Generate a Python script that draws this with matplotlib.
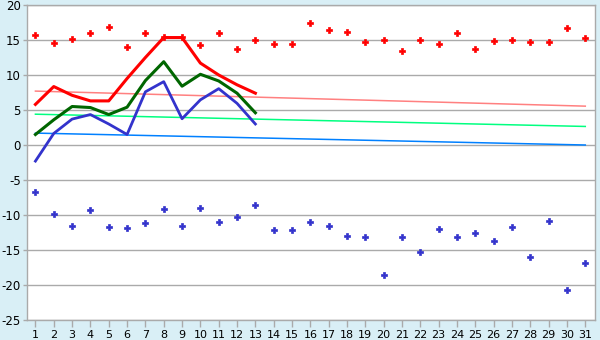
import matplotlib
matplotlib.use('Agg')
import matplotlib.pyplot as plt

plt.rcParams['axes.unicode_minus'] = False

# ---- data ----
days = list(range(1, 32))
record_max = [15.7, 14.6, 15.2, 15.95, 16.8, 13.95, 15.95, 15.4, 15.4, 14.3,
              15.95, 13.7, 14.95, 14.5, 14.4, 17.5, 16.4, 16.1, 14.7, 14.95,
              13.4, 14.95, 14.4, 15.95, 13.7, 14.8, 14.95, 14.7, 14.7, 16.7, 15.25]
record_min = [-6.75, -9.9, -11.5, -9.3, -11.75, -11.9, -11.2, -9.2, -11.5, -9.05,
              -11.05, -10.35, -8.6, -12.2, -12.2, -11.05, -11.5, -13.05, -13.2, -18.6,
              -13.2, -15.35, -12.05, -13.2, -12.6, -13.75, -11.75, -16.05, -10.9, -20.75, -16.9]

obs_days = list(range(1, 14))
obs_max = [5.8, 8.35, 7.1, 6.3, 6.3, 9.5, 12.5, 15.35, 15.35, 11.7, 10.0, 8.6, 7.4]
obs_mean = [1.5, 3.6, 5.5, 5.35, 4.35, 5.4, 9.2, 11.9, 8.4, 10.1, 9.15, 7.4, 4.6]
obs_min = [-2.3, 1.65, 3.7, 4.35, 3.0, 1.5, 7.6, 9.05, 3.75, 6.45, 8.05, 5.95, 3.0]

norm_days = [1, 31]
norm_max = [7.7, 5.55]
norm_mean = [4.4, 2.65]
norm_min = [1.7, 0.0]

yticks = list(range(-25, 21, 5))

# ---- plot ----
bg = '#D9EFF6'
grid_c = '#AAAAAA'
fig = plt.figure(figsize=(6, 3.4), dpi=100, facecolor=bg)
ax = fig.add_axes([27/600, 1 - 320/340, (595 - 27)/600, (320 - 5)/340])
ax.set_facecolor('white')

ax.set_xlim(0.54, 31.53)
ax.set_ylim(-25, 20)
ax.set_yticks(yticks)
ax.set_xticks(days)
ax.yaxis.grid(True, color=grid_c, linewidth=1.0)
ax.set_axisbelow(True)
for s in ax.spines.values():
    s.set_color(grid_c)
    s.set_linewidth(1.0)
ax.tick_params(axis='x', length=5, color=grid_c, width=1, pad=2, labelsize=8)
ax.tick_params(axis='y', length=3, color=grid_c, width=1, pad=1.5, labelsize=8.5)

ax.plot(norm_days, norm_max, color='#FF8080', lw=1.1, zorder=2)
ax.plot(norm_days, norm_mean, color='#00FF80', lw=1.1, zorder=2)
ax.plot(norm_days, norm_min, color='#0080FF', lw=1.1, zorder=2)

ax.plot(obs_days, obs_min, color='#3333CC', lw=2.0, zorder=3)
ax.plot(obs_days, obs_mean, color='#006600', lw=2.2, zorder=3)
ax.plot(obs_days, obs_max, color='#FF0000', lw=2.2, zorder=3)

ax.plot(days, record_max, linestyle='none', marker='P', markersize=4.8,
        color='#FF0000', markeredgewidth=0.5, zorder=4)
ax.plot(days, record_min, linestyle='none', marker='P', markersize=4.8,
        color='#3333CC', markeredgewidth=0.5, zorder=4)

fig.savefig('out.png', dpi=100, facecolor=bg)
